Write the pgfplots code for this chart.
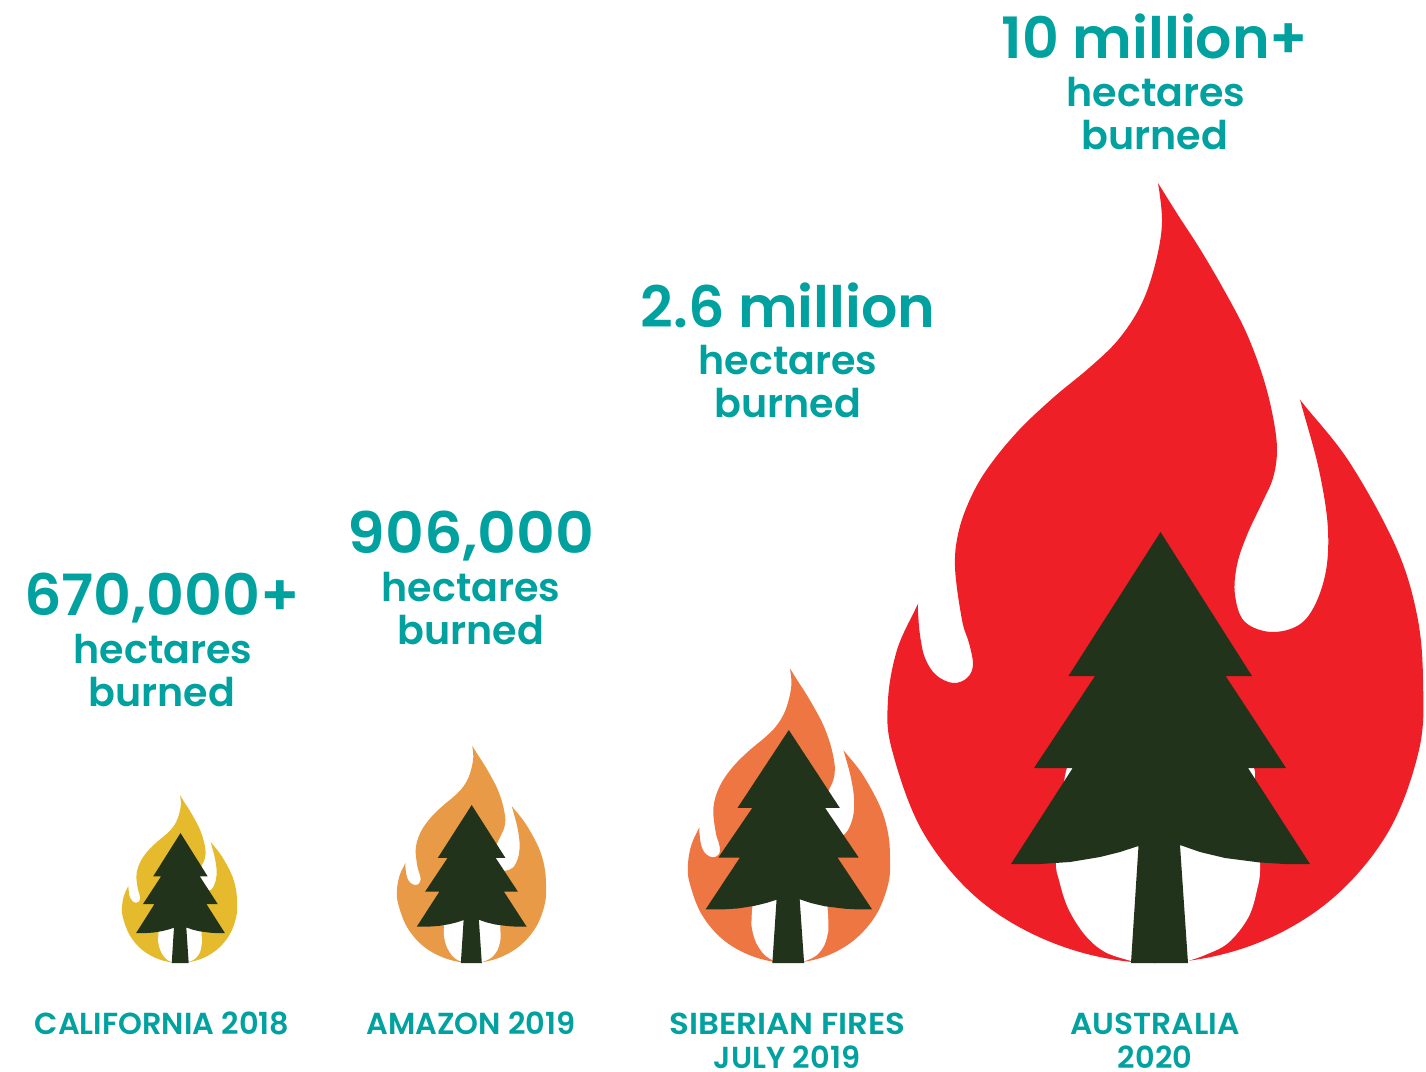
\documentclass[border=0pt]{standalone}
\usepackage{pgfplots}
\usepackage{pgfplotstable}
\usepackage{fontspec}
\usepackage{graphicx}
\pgfplotsset{compat=1.18}
\newfontfamily\pops{Poppins SemiBold}
\definecolor{teal1}{HTML}{00A19F}
\definecolor{cred}{HTML}{EF1F27}
\definecolor{corange}{HTML}{EE7642}
\definecolor{camber}{HTML}{E89A47}
\definecolor{cyellow}{HTML}{E5BA2C}
\definecolor{ctree}{HTML}{22331B}
\pgfplotstableread{
x y
1158 183
1178 215
1200 249
1224 290
1246 332
1263 377
1273 417
1277 450
1273 478
1262 503
1247 535
1237 565
1235 595
1245 622
1274 632
1305 620
1324 580
1328 530
1319 470
1302 407
1300 400
1300 400
1305 406
1350 463
1396 547
1417 615
1423 680
1419 750
1387 834
1327 903
1247 947
1155 963
1064 947
983 903
924 834
892 750
888 700
897 650
915 610
918 604
918 604
918 612
920 635
925 658
936 675
953 683
967 678
973 665
969 643
962 620
955 567
959 530
972 495
990 465
1019 430
1054 397
1089 368
1118 340
1141 305
1155 265
1162 223
1158 183
}\flame
\pgfplotstableread{
x y
1131 961
1131 961
1105 952
1085 935
1068 908
1059 880
1056 863
1058 820
1064 782
1067 768
1075 745
1160 730
1245 760
1255 790
1260 863
1257 890
1248 918
1228 943
1205 955
1188 961
1188 961
1131 961
}\hole
\pgfplotstableread{
x y
1160.5 532
1252 676
1225.6 676
1286 768
1248 768
1310 864
1285 864
1260 862.5
1225 858
1200 852
1180 845
1188 963
1131 963
1138.5 846
1120 852
1100 857
1070 862
1040 864
1011 864
1072.7 768
1034 768
1095 676
1068.5 676
}\tree
\newcommand{\fire}[6]{%
 \addplot[fill=#1,draw=none,smooth,tension=0.6,no markers] table[x expr={#2+#3*(\thisrow{x}-888)},y expr={963-#3*(963-\thisrow{y})}] {\flame};
 \addplot[fill=white,draw=none,smooth,tension=0.6,no markers] table[x expr={#2+#3*(\thisrow{x}-888)},y expr={963-#3*(963-\thisrow{y})}] {\hole};
 \addplot[fill=ctree,draw=none,no markers] table[x expr={#4+#5*(\thisrow{x}-1160.5)},y expr={963-#6*(963-\thisrow{y})}] {\tree};
}
\newcommand{\bign}[4][1]{\node[anchor=base,text=teal1,inner sep=0pt] at (axis cs:#2,#3) {\scalebox{#1}[1]{\fontsize{28.5}{29}\pops #4}};}
\newcommand{\midn}[3]{\node[anchor=base,text=teal1,inner sep=0pt] at (axis cs:#1,#2) {\fontsize{19.8}{20}\pops #3};}
\newcommand{\labn}[4][1]{\node[anchor=base,text=teal1,inner sep=0pt] at (axis cs:#2,#3) {\scalebox{#1}[1]{\fontsize{15.2}{15}\pops #4}};}
\begin{document}
\begin{tikzpicture}
\path[use as bounding box] (0,0) rectangle (713pt,536pt);
\begin{axis}[at={(0,0)},anchor=south west,width=713pt,height=536pt,scale only axis,
  xmin=0,xmax=1426,ymin=0,ymax=1072,y dir=reverse,axis lines=none,clip=false]
\fire{cyellow}{122}{0.215}{180.5}{0.2974}{0.3016}
\fire{camber}{397}{0.2785}{471.7}{0.3675}{0.3666}
\fire{corange}{688}{0.3776}{788.8}{0.557}{0.5406}
\fire{cred}{888}{1}{1160.5}{1}{1}
\bign{1155}{58}{10 million+}
\midn{1156}{106}{hectares}
\midn{1155}{149}{burned}
\bign{788}{327}{2.6 million}
\midn{788}{374}{hectares}
\midn{788}{417}{burned}
\bign[1.055]{471}{553}{906,000}
\midn{471}{601}{hectares}
\midn{471}{644}{burned}
\bign[1.03]{162}{615}{670,000+}
\midn{163}{663}{hectares}
\midn{162}{706}{burned}
\labn{162}{1034}{CALIFORNIA 2018}
\labn{471}{1034}{AMAZON 2019}
\labn[1.07]{787.5}{1034}{SIBERIAN FIRES}
\labn{787}{1068}{JULY 2019}
\labn[1.03]{1155}{1034}{AUSTRALIA}
\labn{1155}{1068}{2020}
\end{axis}
\end{tikzpicture}
\end{document}
